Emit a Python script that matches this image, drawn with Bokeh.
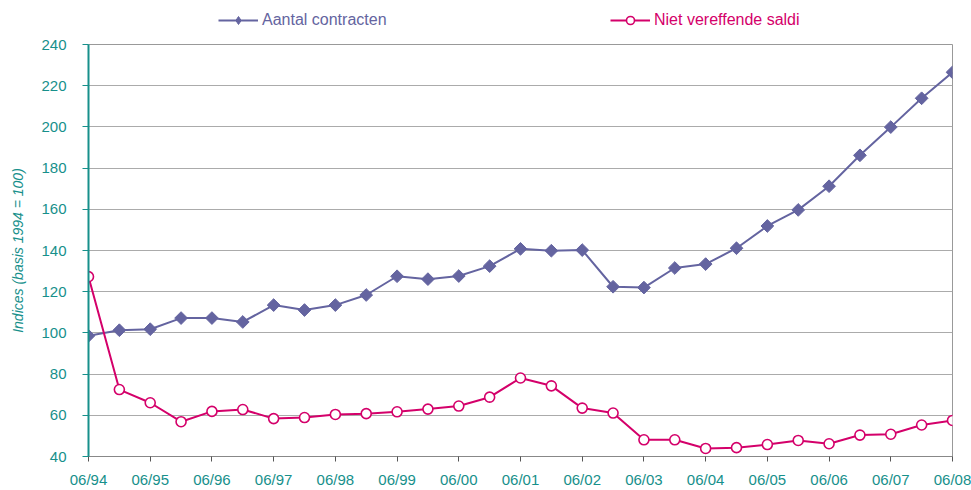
from math import pi
from bokeh.plotting import figure
from bokeh.models import Legend, LegendItem, FixedTicker, Range1d
from bokeh.layouts import column
from bokeh.embed import file_html
from bokeh.resources import INLINE

periods = ["06/94", "12/94", "06/95", "12/95", "06/96", "12/96", "06/97", "12/97",
           "06/98", "12/98", "06/99", "12/99", "06/00", "12/00", "06/01", "12/01",
           "06/02", "12/02", "06/03", "12/03", "06/04", "12/04", "06/05", "12/05",
           "06/06", "12/06", "06/07", "12/07", "06/08"]
aantal_contracten = [98.6, 101.3, 101.8, 107.2, 107.2, 105.3, 113.5, 111.1,
                     113.5, 118.4, 127.5, 126.1, 127.6, 132.4, 140.8, 139.9,
                     140.2, 122.4, 122.0, 131.5, 133.4, 141.1, 151.9, 159.7,
                     171.2, 186.2, 199.9, 213.9, 226.5]
niet_vereffende = [127.3, 72.5, 66.1, 56.9, 61.9, 62.8, 58.4, 58.9,
                   60.4, 60.8, 61.7, 63.0, 64.5, 68.8, 78.1, 74.3,
                   63.5, 61.1, 48.1, 48.1, 43.9, 44.3, 45.8, 47.8,
                   46.2, 50.4, 50.8, 55.3, 57.5]
y_ticks = [40, 60, 80, 100, 120, 140, 160, 180, 200, 220, 240]
series_names = ["Aantal contracten", "Niet vereffende saldi"]

x = list(range(len(periods)))

TEAL = "#17908b"
PURPLE = "#6464a0"
MAGENTA = "#d4006a"
GRID = "#ababab"
FONT = "Liberation Sans"
W = 971

# ---- legend strip ----
top = figure(width=W, height=36, output_backend="svg", toolbar_location=None,
             x_range=Range1d(0, 1), y_range=Range1d(0, 1),
             x_axis_type=None, y_axis_type=None,
             min_border_left=0, min_border_right=0, min_border_top=0, min_border_bottom=0)
top.outline_line_color = None
top.xgrid.grid_line_color = None
top.ygrid.grid_line_color = None

# legend proxies (outside the visible range)
d1 = top.line([-5, -4], [-5, -4], line_color=PURPLE, line_width=2)
d1m = top.scatter([-5], [-5], marker="diamond", size=13, fill_color=PURPLE, line_color=PURPLE)
d2 = top.line([-5, -4], [-5, -4], line_color=MAGENTA, line_width=2)
d2m = top.scatter([-5], [-5], marker="circle", size=9, fill_color="white", line_color=MAGENTA, line_width=1.6)

for name, rends, color, loc in ((series_names[0], [d1, d1m], PURPLE, (130, 6)),
                                (series_names[1], [d2, d2m], MAGENTA, (522, 6))):
    lg = Legend(items=[LegendItem(label=name, renderers=rends)], location=loc,
                orientation="horizontal",
                label_text_color=color, label_text_font=FONT, label_text_font_size="16px",
                glyph_width=40, glyph_height=20, label_standoff=4, padding=0, margin=0,
                border_line_color=None, background_fill_alpha=0)
    top.add_layout(lg, "center")

# ---- main chart ----
p = figure(width=W, height=454, output_backend="svg", toolbar_location=None,
           x_range=Range1d(0, len(periods) - 1), y_range=Range1d(40, 240),
           min_border_left=88, min_border_right=W - 952, min_border_top=8, min_border_bottom=33)

p.outline_line_color = "#999999"
p.outline_line_width = 1
p.background_fill_color = "white"
p.border_fill_color = "white"

p.xgrid.grid_line_color = None
p.ygrid.grid_line_color = GRID
p.ygrid.grid_line_width = 1

p.xaxis.ticker = FixedTicker(ticks=x[::2])
p.xaxis.major_label_overrides = {i: periods[i] for i in x[::2]}
p.xaxis.axis_line_color = "#888888"
p.xaxis.major_tick_line_color = "#555555"
p.xaxis.major_tick_in = 0
p.xaxis.major_tick_out = 5
p.xaxis.minor_tick_line_color = None
p.xaxis.major_label_text_color = TEAL
p.xaxis.major_label_text_font = FONT
p.xaxis.major_label_text_font_size = "15px"
p.xaxis.major_label_standoff = 9

p.yaxis.ticker = FixedTicker(ticks=y_ticks)
p.yaxis.axis_line_color = TEAL
p.yaxis.axis_line_width = 2
p.yaxis.major_tick_line_color = TEAL
p.yaxis.major_tick_in = 0
p.yaxis.major_tick_out = 6
p.yaxis.minor_tick_line_color = None
p.yaxis.major_label_text_color = TEAL
p.yaxis.major_label_text_font = FONT
p.yaxis.major_label_text_font_size = "15px"
p.yaxis.major_label_standoff = 16
p.yaxis.axis_label = "Indices (basis 1994 = 100)"
p.yaxis.axis_label_text_color = TEAL
p.yaxis.axis_label_text_font = FONT
p.yaxis.axis_label_text_font_style = "italic"
p.yaxis.axis_label_text_font_size = "14px"
p.yaxis.axis_label_standoff = 12

p.line(x, aantal_contracten, line_color=PURPLE, line_width=2)
p.scatter(x, aantal_contracten, marker="square", angle=pi / 4, size=9,
          fill_color=PURPLE, line_color=PURPLE)
p.line(x, niet_vereffende, line_color=MAGENTA, line_width=2)
p.scatter(x, niet_vereffende, marker="circle", size=10, fill_color="white",
          line_color=MAGENTA, line_width=1.6)

open("out.html", "w").write(file_html(column(top, p), INLINE))
